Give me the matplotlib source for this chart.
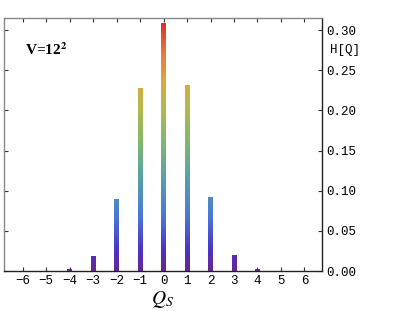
import numpy as np
import matplotlib
matplotlib.use('Agg')
import matplotlib.pyplot as plt
from matplotlib.colors import LinearSegmentedColormap

plt.rcParams['mathtext.fontset'] = 'stix'

# data
charges = [-6, -5, -4, -3, -2, -1, 0, 1, 2, 3, 4, 5, 6]
hist = [0.0, 0.0, 0.0015, 0.0175, 0.0895, 0.2275, 0.308, 0.231, 0.092, 0.0187, 0.0015, 0.0, 0.0]
yticks = [0.00, 0.05, 0.10, 0.15, 0.20, 0.25, 0.30]

Y_MAX = 0.315
BAR_W = 0.2

rainbow = LinearSegmentedColormap.from_list('rainbow_mm', [
    (0.00, '#6b2596'),
    (0.08, '#4a33c4'),
    (0.22, '#4a78d8'),
    (0.38, '#5aa2a6'),
    (0.52, '#82b86c'),
    (0.66, '#b6b84c'),
    (0.76, '#d8aa40'),
    (0.88, '#e87a3c'),
    (1.00, '#e02a2a'),
])

mono = 'Liberation Mono'

fig = plt.figure(figsize=(3.99, 3.11), dpi=100)
ax = fig.add_axes([0.010, 0.1286, 0.797, 0.8135])

for q, h in zip(charges, hist):
    if h <= 0:
        continue
    grad = np.linspace(0, h, 200).reshape(-1, 1)
    ax.imshow(grad, cmap=rainbow, vmin=0, vmax=0.31, origin='lower',
              extent=[q - BAR_W / 2, q + BAR_W / 2, 0, h],
              aspect='auto', interpolation='bilinear', zorder=2)

ax.set_xlim(-6.8, 6.75)
ax.set_ylim(0, Y_MAX)

ax.yaxis.tick_right()
ax.set_yticks(yticks)
ax.set_yticklabels(['%.2f' % v for v in yticks], family=mono, fontsize=9)
ax.set_xticks(charges)
ax.set_xticklabels(['\u2212%d' % -q if q < 0 else str(q) for q in charges], family=mono, fontsize=9)
ax.tick_params(axis='both', direction='in', length=3, width=0.8, color='#333333', pad=3)
ax.tick_params(axis='y', which='both', left=True, right=True)
ax.tick_params(axis='x', which='both', top=True, bottom=True)

for s in ['top', 'left']:
    ax.spines[s].set_color('#888888')
for s in ['bottom', 'right']:
    ax.spines[s].set_color('#222222')
for s in ax.spines.values():
    s.set_linewidth(1.0)

ax.text(1.025, 0.873, 'H[Q]', transform=ax.transAxes, family=mono, fontsize=9,
        ha='left', va='center')
ax.text(0.5, -0.113, r'$Q_S$', transform=ax.transAxes, fontsize=14,
        ha='center', va='center')
ax.text(0.065, 0.875, r'V=12$^{\mathbf{2}}$', transform=ax.transAxes, family='Liberation Serif',
        fontweight='bold', fontsize=11, ha='left', va='center')

fig.savefig('out.png', dpi=100)
